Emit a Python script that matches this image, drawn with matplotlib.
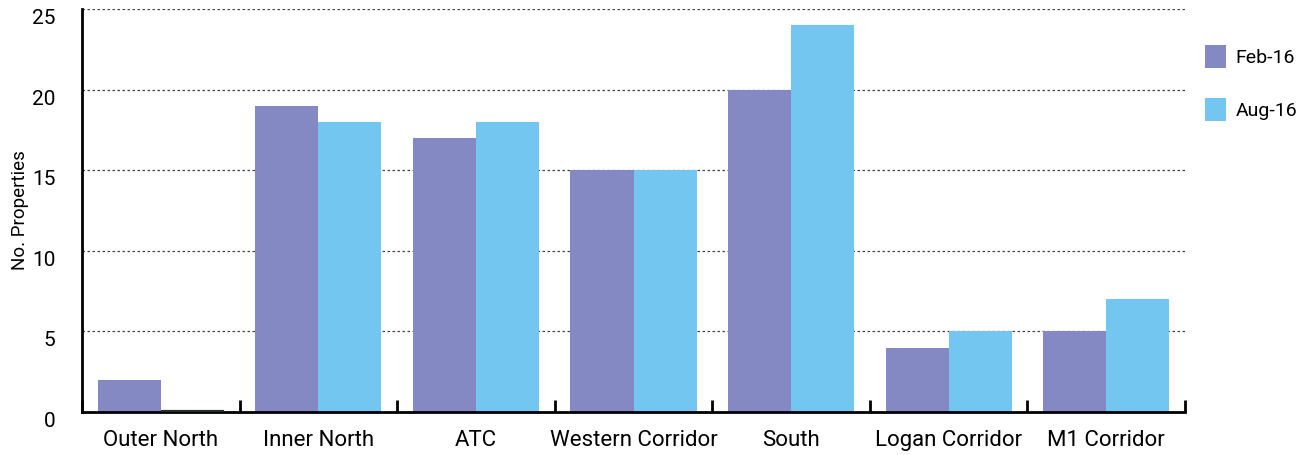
import matplotlib
matplotlib.use("Agg")
import matplotlib.pyplot as plt
import numpy as np
from matplotlib.patches import Patch

categories = ["Outer North", "Inner North", "ATC", "Western Corridor", "South",
              "Logan Corridor", "M1 Corridor"]
feb16 = [2, 19, 17, 15, 20, 4, 5]
aug16 = [0, 18, 18, 15, 24, 5, 7]
series_names = ["Feb-16", "Aug-16"]
y_ticks = [0, 5, 10, 15, 20, 25]

feb_color = "#8589C3"
aug_color = "#73C6EF"

plt.rcParams["font.family"] = ["Roboto", "DejaVu Sans"]

fig = plt.figure(figsize=(13.07, 4.55), dpi=100)
ax = fig.add_axes([0.0627, 0.0945, 0.8440, 0.8855])

x = np.arange(len(categories))
w = 0.4


def draw_series(offset, vals, color):
    bars = ax.bar(x + offset, vals, width=w, color=color, linewidth=0, zorder=3)
    # zero-height bars show as a thin dark line on the baseline
    for b, v in zip(bars, vals):
        if v == 0:
            b.set_edgecolor("#1f2e2a")
            b.set_linewidth(3)
            b.set_zorder(5)


draw_series(-w / 2, feb16, feb_color)
draw_series(w / 2, aug16, aug_color)

ax.set_xlim(-0.5, len(categories) - 0.5)
ax.set_ylim(0, 25)

# dotted horizontal gridlines
for t in y_ticks[1:]:
    ax.axhline(t, color="#444444", linestyle=(0, (2, 2)), linewidth=0.9, zorder=1)

ax.spines["top"].set_visible(False)
ax.spines["right"].set_visible(False)
ax.spines["left"].set_linewidth(2)
ax.spines["bottom"].set_linewidth(2)
ax.spines["left"].set_zorder(4)
ax.spines["bottom"].set_zorder(4)

ax.set_yticks(y_ticks)
ax.set_yticklabels([str(t) for t in y_ticks], fontsize=15)
ax.tick_params(axis="y", length=0, pad=19)
for lab in ax.get_yticklabels():
    lab.set_va("top")

# category labels centered, boundary ticks pointing up
ax.set_xticks(x)
ax.set_xticklabels(categories, fontsize=16)
ax.tick_params(axis="x", which="major", length=0, pad=13)
ax.set_xticks(np.arange(len(categories) + 1) - 0.5, minor=True)
ax.tick_params(axis="x", which="minor", direction="in", length=9, width=2,
               color="black")

ax.set_ylabel("No. Properties", fontsize=13.5, labelpad=2)

handles = [Patch(facecolor=feb_color, label=series_names[0]),
           Patch(facecolor=aug_color, label=series_names[1])]
ax.legend(handles=handles, loc="upper left", bbox_to_anchor=(1.002, 0.955),
          frameon=False, fontsize=14, handlelength=1.1, handleheight=1.5,
          labelspacing=1.5, handletextpad=0.5)

fig.savefig("out.png", dpi=100)
